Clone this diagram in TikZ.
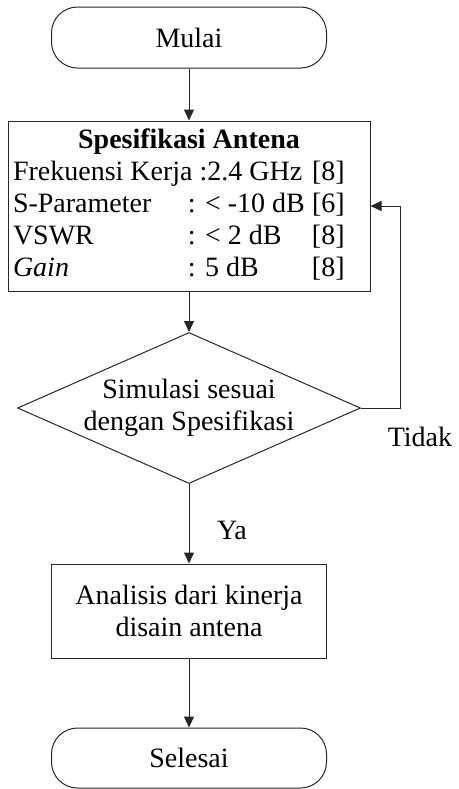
\documentclass[tikz,border=0pt]{standalone}
\usepackage{fontspec}
\setmainfont{Liberation Serif}
\usetikzlibrary{shapes.geometric,arrows.meta}

\begin{document}
\begin{tikzpicture}[x=0.5pt, y=-0.5pt, line width=0.5pt, draw=black!85,
  font=\fontsize{14}{16}\selectfont, >={Triangle[length=5.5pt,width=5pt]}]
 \useasboundingbox (0,0) rectangle (459,789);
 \begin{scope}[every node/.style={draw, inner sep=0pt}]
   \node (mulai) [rounded corners=13pt, minimum width=137.5pt, minimum height=30.5pt] at (189,37.5) {Mulai};
   \node (spek) [inner sep=2.5pt, minimum width=181pt, minimum height=84pt] at (189,206) {%
     \begin{tabular}{@{}p{87.5pt}@{}p{62pt}@{}p{26.5pt}@{}}
       \multicolumn{3}{@{}c@{}}{\textbf{Spesifikasi Antena}}\\
       \multicolumn{2}{@{}l@{}}{Frekuensi Kerja :2.4 GHz} & [8]\\
       S-Parameter & : < -10 dB & [6]\\
       VSWR & : < 2 dB & [8]\\
       \textit{Gain} & : 5 dB & [8]
     \end{tabular}};
   \node (cek) [diamond, aspect=2.27, minimum width=171.5pt, minimum height=75.5pt, align=center] at (189,408) {Simulasi sesuai\\dengan Spesifikasi};
   \node (analisis) [minimum width=137.5pt, minimum height=47pt, align=center] at (189,611) {Analisis dari kinerja\\disain antena};
   \node (selesai) [rounded corners=13pt, minimum width=137.5pt, minimum height=30pt] at (189,758) {Selesai};
 \end{scope}
 \node (ya) at (232,530) {Ya};
 \node (tidak) at (420,437) {Tidak};
 \coordinate (balik) at (400,408);
 \draw[->] (mulai) -- (spek);
 \draw[->] (spek) -- (cek);
 \draw[->] (cek) -- (analisis);
 \draw[->] (analisis) -- (selesai);
 \draw[->] (cek) -- (balik) |- (spek);
\end{tikzpicture}
\end{document}
